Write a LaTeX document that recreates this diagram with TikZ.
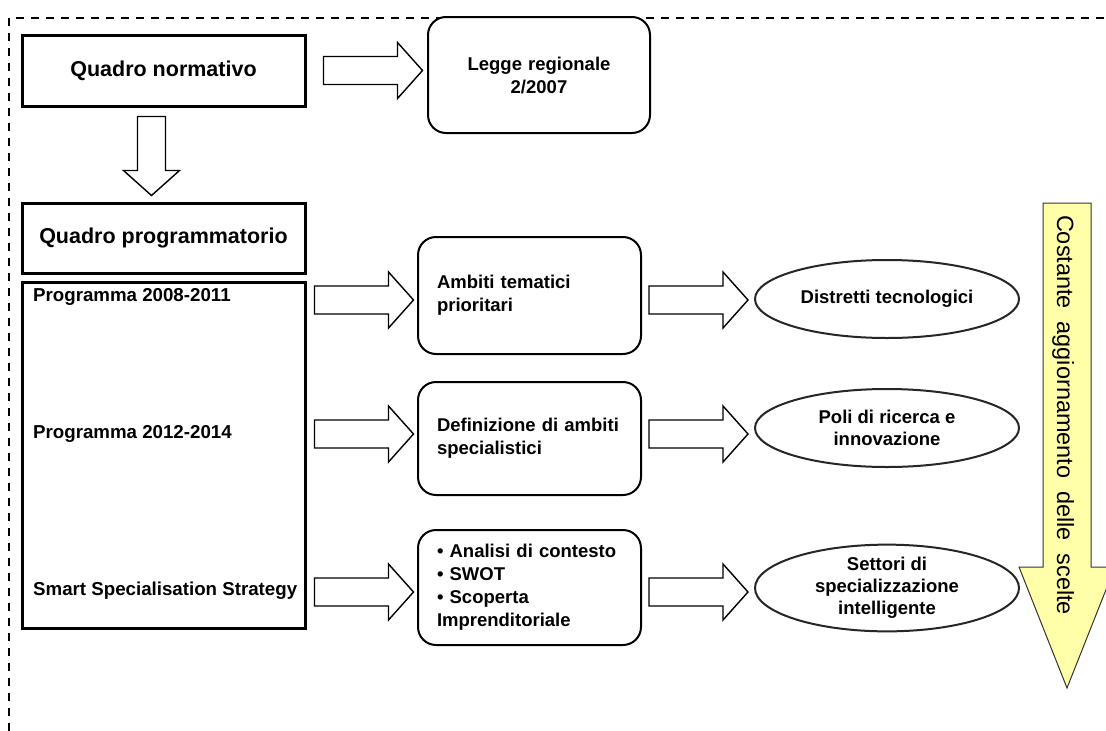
\documentclass[tikz,border=0pt]{standalone}
\usepackage{fontspec}
\setmainfont{Liberation Sans}
\usetikzlibrary{shapes,positioning,calc}

\definecolor{paleyellow}{RGB}{255,255,170}

% block arrow, drawn from its tail to the right; #1 = total length
\tikzset{pics/fatarrow/.style={code={
  \draw[fatarr] (0,-14) -- (#1-25,-14) -- (#1-25,-28) -- (#1,0)
    -- (#1-25,28) -- (#1-25,14) -- (0,14) -- cycle;}}}

\begin{document}
\begin{tikzpicture}[x=1pt,y=-1pt]
\tikzstyle{frame}=[black,line width=2.6pt,dash pattern=on 8pt off 7pt]
\tikzstyle{sq}=[rectangle,draw=black,line width=3pt,fill=white,inner sep=0pt,minimum width=283pt]
\tikzstyle{rd}=[rectangle,rounded corners=18pt,draw=black,line width=2pt,fill=white,
  minimum width=223pt,text width=185pt,inner xsep=19pt,align=left,
  font=\bfseries\fontsize{18.5}{23}\selectfont]
\tikzstyle{el}=[ellipse,draw=black!85,line width=2pt,fill=white,inner sep=0pt,
  minimum width=264pt,minimum height=78pt,align=center,
  font=\bfseries\fontsize{18.5}{22}\selectfont]
\tikzstyle{big}=[font=\bfseries\fontsize{21.5}{26}\selectfont]
\tikzstyle{lbl}=[anchor=west,inner sep=0pt,font=\bfseries\fontsize{18.7}{23}\selectfont]
\tikzstyle{fatarr}=[draw=black,fill=white,line width=1.4pt,line join=miter]
\tikzstyle{yarr}=[draw=black!80,fill=paleyellow,line width=1pt]
\useasboundingbox (0,0) rectangle (1106,731);

\draw[frame] (9,731) -- (9,18) -- (1110,18);

% vertical arrow on the right
\draw[yarr] (1043,203) -- (1091,203) -- (1091,567) -- (1115,567)
  -- (1067,688) -- (1019,567) -- (1043,567) -- cycle;
\node[rotate=-90,anchor=base,inner sep=0pt,font=\fontsize{23.5}{28}\selectfont] (scelte) at (1057,415)
  {\makebox[400pt][s]{Costante aggiornamento delle scelte}};

\node[sq,big,minimum height=71pt] (norm)     at (163.5,70.5) {Quadro normativo};
\node[sq,big,minimum height=70pt] (progtit)  at (163.5,238)  {Quadro programmatorio};
\node[sq,minimum height=346pt]    (proglist) at (163.5,455)  {};
\node[lbl] (p1) at (33,297) {Programma 2008-2011};
\node[lbl] (p2) at (33,434) {Programma 2012-2014};
\node[lbl] (p3) at (33,591) {Smart Specialisation Strategy};

\node[rd,minimum width=222pt,text width=184pt,minimum height=116pt,align=center] (legge) at (539,75)
  {Legge regionale\\2/2007};
\node[rd,minimum height=117pt] (ambiti)  at (529.5,295.5) {Ambiti tematici\\prioritari};
\node[rd,minimum height=113pt] (defin)   at (529.5,438.5) {Definizione di ambiti\\specialistici};
\node[rd,minimum height=115pt] (analisi) at (529.5,587.5)
  {\textbullet{} Analisi di contesto\\\textbullet{} SWOT\\\textbullet{} Scoperta\\Imprenditoriale};

\node[el] (distr)   at (887,299) {Distretti tecnologici};
\node[el] (poli)    at (887,428) {Poli di ricerca e\\innovazione};
\node[el,minimum height=80pt] (settori) at (887,588) {Settori di\\specializzazione\\intelligente};

\pic at ($(norm.east)+(17,0)$) {fatarrow=99};
\pic[rotate=-90] at ($(norm.south)+(-12,9)$) {fatarrow=79};
\pic at ($(proglist.east |- ambiti)+(8,4.5)$)   {fatarrow=99};
\pic at ($(proglist.east |- defin)+(8,-4.5)$)   {fatarrow=99};
\pic at ($(proglist.east |- analisi)+(8,4.5)$)  {fatarrow=99};
\pic at ($(ambiti.east)+(7,4.5)$)   {fatarrow=99};
\pic at ($(defin.east)+(7,-4.5)$)   {fatarrow=99};
\pic at ($(analisi.east)+(7,4.5)$)  {fatarrow=99};
\end{tikzpicture}
\end{document}
